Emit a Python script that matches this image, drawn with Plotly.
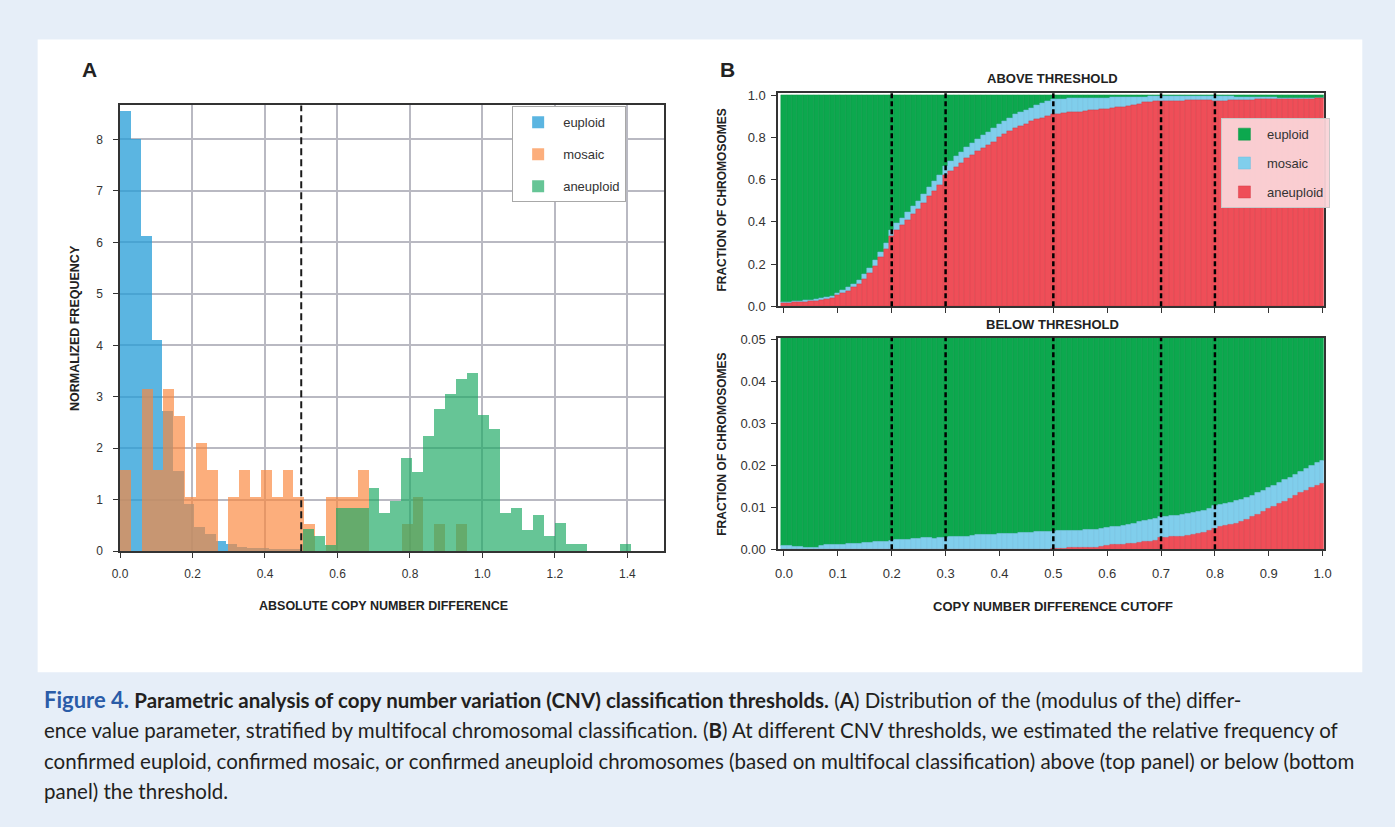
import numpy as np
import plotly.graph_objects as go

W, H = 1395, 827

# ---------------- Panel A: histogram data (normalized frequency per bin) ----------------
EUPLOID_BIN_START = 0.0
EUPLOID_BIN_WIDTH = 0.0293
euploid_freq = [8.54, 8.00, 6.12, 4.10, 2.72, 1.55, 0.92, 0.47, 0.33, 0.20,
                0.13, 0.08, 0.06, 0.06, 0.04, 0.03, 0.03]

MOSAIC_BIN_START = 0.0
MOSAIC_BIN_WIDTH = 0.0299
mosaic_freq = [1.57, 0.00, 3.15, 1.57, 3.15, 2.62, 1.05, 2.10, 1.57, 0.00,
               1.05, 1.57, 1.05, 1.57, 1.05, 1.57, 1.05, 0.52, 0.00, 1.05,
               1.05, 1.05, 1.57, 0.00, 0.00, 0.00, 0.52, 1.05, 0.00, 0.52,
               0.00, 0.52]

ANEUPLOID_BIN_START = 0.5045
ANEUPLOID_BIN_WIDTH = 0.0302
aneuploid_freq = [0.42, 0.28, 0.12, 0.83, 0.83, 0.83, 1.23, 0.73, 0.97, 1.80,
                  1.53, 2.23, 2.76, 3.05, 3.33, 3.46, 2.64, 2.36, 0.73, 0.83,
                  0.41, 0.70, 0.28, 0.55, 0.14, 0.14, 0.00, 0.00, 0.00, 0.14]

hist_xticks = [0.0, 0.2, 0.4, 0.6, 0.8, 1.0, 1.2, 1.4]
hist_yticks = [0, 1, 2, 3, 4, 5, 6, 7, 8]
hist_threshold = 0.5

# ---------------- Panel B: fractions at each cutoff ----------------
cutoffs = np.round(np.arange(101) * 0.01, 2)

above_aneuploid = [
    0.015, 0.016, 0.017, 0.019, 0.021, 0.023, 0.026, 0.030, 0.034, 0.039,
    0.051, 0.062, 0.073, 0.088, 0.105, 0.128, 0.158, 0.190, 0.230, 0.270,
    0.330, 0.360, 0.385, 0.410, 0.435, 0.460, 0.490, 0.520, 0.545, 0.575,
    0.620, 0.640, 0.660, 0.680, 0.700, 0.715, 0.735, 0.750, 0.765, 0.780,
    0.800, 0.815, 0.830, 0.845, 0.855, 0.865, 0.875, 0.885, 0.893, 0.900,
    0.910, 0.912, 0.915, 0.918, 0.920, 0.922, 0.925, 0.928, 0.930, 0.933,
    0.936, 0.939, 0.942, 0.946, 0.950, 0.955, 0.960, 0.965, 0.968, 0.970,
    0.972, 0.973, 0.973, 0.974, 0.974, 0.975, 0.975, 0.975, 0.975, 0.975,
    0.972, 0.972, 0.972, 0.978, 0.978, 0.979, 0.979, 0.979, 0.980, 0.980,
    0.980, 0.981, 0.981, 0.982, 0.982, 0.982, 0.983, 0.983, 0.983, 0.984, 0.984]
above_mosaic = [
    0.005, 0.005, 0.005, 0.005, 0.006, 0.006, 0.006, 0.007, 0.007, 0.008,
    0.012, 0.014, 0.016, 0.018, 0.020, 0.022, 0.024, 0.026, 0.028, 0.030,
    0.030, 0.032, 0.034, 0.036, 0.038, 0.040, 0.042, 0.044, 0.046, 0.048,
    0.045, 0.048, 0.050, 0.052, 0.054, 0.056, 0.058, 0.060, 0.060, 0.062,
    0.062, 0.062, 0.063, 0.064, 0.065, 0.066, 0.066, 0.067, 0.068, 0.070,
    0.072, 0.070, 0.068, 0.066, 0.064, 0.062, 0.060, 0.058, 0.056, 0.054,
    0.052, 0.050, 0.047, 0.044, 0.040, 0.036, 0.032, 0.028, 0.026, 0.025,
    0.024, 0.023, 0.023, 0.022, 0.022, 0.021, 0.021, 0.021, 0.020, 0.020,
    0.024, 0.024, 0.024, 0.016, 0.015, 0.014, 0.013, 0.012, 0.011, 0.010,
    0.009, 0.008, 0.007, 0.006, 0.005, 0.004, 0.003, 0.002, 0.002, 0.001, 0.001]
above_euploid = [
    0.980, 0.979, 0.978, 0.976, 0.973, 0.971, 0.968, 0.963, 0.959, 0.953,
    0.937, 0.924, 0.911, 0.894, 0.875, 0.850, 0.818, 0.784, 0.742, 0.700,
    0.640, 0.608, 0.581, 0.554, 0.527, 0.500, 0.468, 0.436, 0.409, 0.377,
    0.335, 0.312, 0.290, 0.268, 0.246, 0.229, 0.207, 0.190, 0.175, 0.158,
    0.138, 0.123, 0.107, 0.091, 0.080, 0.069, 0.059, 0.048, 0.039, 0.030,
    0.018, 0.018, 0.017, 0.016, 0.016, 0.016, 0.015, 0.014, 0.014, 0.013,
    0.012, 0.011, 0.011, 0.010, 0.010, 0.009, 0.008, 0.007, 0.006, 0.005,
    0.004, 0.004, 0.004, 0.004, 0.004, 0.004, 0.004, 0.004, 0.005, 0.005,
    0.004, 0.004, 0.004, 0.006, 0.007, 0.007, 0.008, 0.009, 0.009, 0.010,
    0.011, 0.011, 0.012, 0.012, 0.013, 0.014, 0.014, 0.015, 0.015, 0.015, 0.015]

below_aneuploid = [
    0.0, 0.0, 0.0, 0.0, 0.0, 0.0, 0.0, 0.0, 0.0, 0.0,
    0.0, 0.0, 0.0, 0.0, 0.0, 0.0, 0.0, 0.0, 0.0, 0.0,
    0.0, 0.0, 0.0, 0.0, 0.0, 0.0, 0.0, 0.0, 0.0, 0.0,
    0.0, 0.0, 0.0, 0.0, 0.0, 0.0, 0.0, 0.0, 0.0, 0.0,
    0.0, 0.0, 0.0, 0.0, 0.0, 0.0, 0.0, 0.0, 0.0, 0.0,
    0.0002, 0.0002, 0.0002, 0.0003, 0.0003, 0.0003, 0.0004, 0.0004, 0.0005, 0.0006,
    0.0009, 0.0010, 0.0011, 0.0012, 0.0013, 0.0014, 0.0016, 0.0018, 0.0019, 0.0021,
    0.0027, 0.0028, 0.0029, 0.0030, 0.0031, 0.0032, 0.0034, 0.0037, 0.0040, 0.0044,
    0.0050, 0.0053, 0.0056, 0.0059, 0.0062, 0.0066, 0.0071, 0.0077, 0.0083, 0.0090,
    0.0097, 0.0102, 0.0108, 0.0114, 0.0120, 0.0128, 0.0135, 0.0141, 0.0147, 0.0152, 0.0157]
below_mosaic = [
    0.0009, 0.0008, 0.0007, 0.0006, 0.0005, 0.0004, 0.0004, 0.0009, 0.0011, 0.0011,
    0.0012, 0.0012, 0.0013, 0.0013, 0.0014, 0.0016, 0.0017, 0.0018, 0.0018, 0.0019,
    0.0021, 0.0022, 0.0023, 0.0024, 0.0025, 0.0026, 0.0027, 0.0027, 0.0026, 0.0027,
    0.0027, 0.0029, 0.0030, 0.0030, 0.0031, 0.0033, 0.0034, 0.0035, 0.0036, 0.0036,
    0.0037, 0.0037, 0.0038, 0.0038, 0.0039, 0.0040, 0.0040, 0.0041, 0.0041, 0.0042,
    0.0041, 0.0042, 0.0042, 0.0041, 0.0042, 0.0042, 0.0042, 0.0043, 0.0043, 0.0044,
    0.0043, 0.0044, 0.0044, 0.0045, 0.0046, 0.0048, 0.0049, 0.0051, 0.0052, 0.0052,
    0.0051, 0.0051, 0.0051, 0.0051, 0.0052, 0.0053, 0.0053, 0.0052, 0.0053, 0.0053,
    0.0053, 0.0053, 0.0053, 0.0053, 0.0053, 0.0052, 0.0052, 0.0052, 0.0052, 0.0051,
    0.0051, 0.0051, 0.0052, 0.0052, 0.0052, 0.0050, 0.0050, 0.0051, 0.0052, 0.0054, 0.0055]
below_euploid = [
    0.999, 0.999, 0.999, 0.999, 0.999, 0.999, 0.999, 0.999, 0.999, 0.999,
    0.999, 0.999, 0.999, 0.999, 0.999, 0.998, 0.998, 0.998, 0.998, 0.998,
    0.998, 0.998, 0.998, 0.998, 0.998, 0.997, 0.997, 0.997, 0.997, 0.997,
    0.997, 0.997, 0.997, 0.997, 0.997, 0.997, 0.997, 0.997, 0.996, 0.996,
    0.996, 0.996, 0.996, 0.996, 0.996, 0.996, 0.996, 0.996, 0.996, 0.996,
    0.996, 0.996, 0.996, 0.996, 0.996, 0.996, 0.995, 0.995, 0.995, 0.995,
    0.995, 0.995, 0.995, 0.994, 0.994, 0.994, 0.994, 0.993, 0.993, 0.993,
    0.992, 0.992, 0.992, 0.992, 0.992, 0.992, 0.991, 0.991, 0.991, 0.990,
    0.990, 0.989, 0.989, 0.989, 0.989, 0.988, 0.988, 0.987, 0.987, 0.986,
    0.985, 0.985, 0.984, 0.983, 0.983, 0.982, 0.982, 0.981, 0.980, 0.979, 0.979]

threshold_lines = [0.2, 0.3, 0.5, 0.7, 0.8]
above_yticks = [0.0, 0.2, 0.4, 0.6, 0.8, 1.0]
below_yticks = [0.00, 0.01, 0.02, 0.03, 0.04, 0.05]
cutoff_ticks = [0.0, 0.1, 0.2, 0.3, 0.4, 0.5, 0.6, 0.7, 0.8, 0.9, 1.0]

# ---------------- helpers ----------------
def fx(p):
    return p / W


def fy(p):
    return 1 - p / H


FONT = "Liberation Sans, Arial, sans-serif"
NARROW = "Liberation Sans Narrow, Arial Narrow, Liberation Sans, Arial, sans-serif"
CAPTION_FONT = "Lato, Liberation Sans, sans-serif"

fig = go.Figure()

# ---------------- Panel A traces ----------------
def centers(start, width, n):
    return [start + (i + 0.5) * width for i in range(n)]

hist_specs = [
    ("euploid", euploid_freq, EUPLOID_BIN_START, EUPLOID_BIN_WIDTH, "rgba(40,158,215,0.76)"),
    ("mosaic", mosaic_freq, MOSAIC_BIN_START, MOSAIC_BIN_WIDTH, "rgba(250,136,62,0.68)"),
    ("aneuploid", aneuploid_freq, ANEUPLOID_BIN_START, ANEUPLOID_BIN_WIDTH, "rgba(30,170,100,0.68)"),
]
for name, freq, start, width, col in hist_specs:
    fig.add_trace(go.Bar(
        x=centers(start, width, len(freq)), y=freq, width=width, name=name,
        marker=dict(color=col, line=dict(width=0)),
        xaxis="x", yaxis="y", legend="legend", legendgroup="A_" + name,
        hoverinfo="x+y",
    ))

# ---------------- Panel B traces ----------------
B_COLORS = {
    "euploid": ("rgb(12,168,78)", "rgb(8,150,68)"),
    "mosaic": ("rgb(128,206,236)", "rgb(110,190,222)"),
    "aneuploid": ("rgb(239,78,88)", "rgb(214,62,72)"),
}

def add_stack(ax, ay, aneu, mosa, eupl, show):
    aneu = np.array(aneu)
    mosa = np.array(mosa)
    eupl = np.array(eupl)
    layers = {
        "aneuploid": (aneu, np.zeros_like(aneu)),
        "mosaic": (mosa, aneu),
        "euploid": (eupl, aneu + mosa),
    }
    for name in ["euploid", "mosaic", "aneuploid"]:
        vals, base = layers[name]
        fill, edge = B_COLORS[name]
        fig.add_trace(go.Bar(
            x=cutoffs, y=vals, base=base, width=0.01, name=name,
            marker=dict(color=fill, line=dict(width=0.5, color=edge)),
            xaxis=ax, yaxis=ay, legend="legend2", legendgroup="B_" + name,
            showlegend=show, hoverinfo="x+y",
        ))

add_stack("x2", "y2", above_aneuploid, above_mosaic, above_euploid, True)
add_stack("x3", "y3", below_aneuploid, below_mosaic, below_euploid, False)

# ---------------- shapes ----------------
shapes = [
    dict(type="rect", xref="paper", yref="paper", x0=fx(30), x1=fx(1370),
         y0=fy(678), y1=fy(35), fillcolor="white", line=dict(width=0), layer="below"),
    dict(type="line", xref="x", yref="y domain", x0=hist_threshold, x1=hist_threshold,
         y0=0, y1=1, line=dict(color="#1a1a1a", width=2, dash="7px,4px")),
]
for t in threshold_lines:
    for xr, yr in [("x2", "y2 domain"), ("x3", "y3 domain")]:
        shapes.append(dict(type="line", xref=xr, yref=yr, x0=t, x1=t, y0=0, y1=1,
                           line=dict(color="black", width=2.5, dash="5px,3px")))

# ---------------- annotations ----------------
ann = []

def text(x, y, s, size=12, bold=True, angle=0, family=FONT, color="#222", xanchor="center"):
    ann.append(dict(x=x, y=y, xref="paper", yref="paper", text=("<b>%s</b>" % s) if bold else s,
                    showarrow=False, textangle=angle, xanchor=xanchor, yanchor="middle",
                    font=dict(size=size, family=family, color=color)))

text(fx(82), fy(66), "A", size=21)
text(fx(728), fy(66), "B", size=21)
text(fx(68), fy(328), "NORMALIZED FREQUENCY", size=12.5, angle=-90)
text(fx(380), fy(611), "ABSOLUTE COPY NUMBER DIFFERENCE", size=12.5)
text(fx(1057), fy(75), "ABOVE THRESHOLD", size=13, family=NARROW)
text(fx(1057), fy(325), "BELOW THRESHOLD", size=13, family=NARROW)
text(fx(722), fy(198), "FRACTION OF CHROMOSOMES", size=12, angle=-90)
text(fx(722), fy(446), "FRACTION OF CHROMOSOMES", size=12, angle=-90)
text(fx(1057), fy(611), "COPY NUMBER DIFFERENCE CUTOFF", size=13, family=NARROW)

caption_lines = [
    "<span style='color:#2a5ca8;font-size:22px'><b>Figure 4.</b></span> <b>Parametric analysis of copy number variation (CNV) classification thresholds.</b> (<b>A</b>) Distribution of the (modulus of the) differ-",
    "ence value parameter, stratified by multifocal chromosomal classification. (<b>B</b>) At different CNV thresholds, we estimated the relative frequency of",
    "confirmed euploid, confirmed mosaic, or confirmed aneuploid chromosomes (based on multifocal classification) above (top panel) or below (bottom",
    "panel) the threshold.",
]
for i, line in enumerate(caption_lines):
    text(fx(34), fy(706 + 31 * i), line, size=20.5, bold=False, family=CAPTION_FONT,
         color="#231f20", xanchor="left")

# ---------------- axes ----------------
AX_LINE = dict(showline=True, linecolor="#333333", linewidth=1.5, mirror=True,
               ticks="outside", ticklen=5, tickwidth=1.2, tickcolor="#333333", zeroline=False)

fig.update_layout(
    width=W, height=H, autosize=False, margin=dict(l=0, r=0, t=0, b=0),
    paper_bgcolor="#e6eef8", plot_bgcolor="white",
    barmode="overlay", bargap=0,
    font=dict(family=FONT, color="#333333", size=12),
    shapes=shapes, annotations=ann,
    xaxis=dict(domain=[fx(113.3), fx(663.3)], range=[0, 1.5], anchor="y",
               tickvals=hist_xticks, ticktext=["%.1f" % v for v in hist_xticks],
               showgrid=True, gridcolor="#b9b9c2", gridwidth=1.5, ticklabelstandoff=6,
               tickfont=dict(size=12, family=FONT, color="#333"), **AX_LINE),
    yaxis=dict(domain=[fy(555), fy(102)], range=[0, 8.66], anchor="x",
               tickvals=hist_yticks, ticktext=[str(v) for v in hist_yticks],
               showgrid=True, gridcolor="#b9b9c2", gridwidth=1.5, ticklabelstandoff=8,
               tickfont=dict(size=12, family=FONT, color="#333"), **AX_LINE),
    xaxis2=dict(domain=[fx(779), fx(1331)], range=[-0.011, 1.002], anchor="y2",
                tickvals=cutoff_ticks, showticklabels=False, showgrid=False, **AX_LINE),
    yaxis2=dict(domain=[fy(306), fy(89.6)], range=[0, 1.01], anchor="x2",
                tickvals=above_yticks, ticktext=["%.1f" % v for v in above_yticks],
                showgrid=False, ticklabelstandoff=3,
                tickfont=dict(size=13, family=NARROW, color="#333"), **AX_LINE),
    xaxis3=dict(domain=[fx(779), fx(1331)], range=[-0.011, 1.002], anchor="y3",
                tickvals=cutoff_ticks, ticktext=["%.1f" % v for v in cutoff_ticks],
                showgrid=False, ticklabelstandoff=6,
                tickfont=dict(size=13, family=NARROW, color="#333"), **AX_LINE),
    yaxis3=dict(domain=[fy(553), fy(338)], range=[0, 0.0505], anchor="x3",
                tickvals=below_yticks, ticktext=["%.2f" % v for v in below_yticks],
                showgrid=False, ticklabelstandoff=3,
                tickfont=dict(size=13, family=NARROW, color="#333"), **AX_LINE),
    legend=dict(x=fx(510), y=fy(103), xanchor="left", yanchor="top",
                bgcolor="white", bordercolor="#a8a8a8", borderwidth=1,
                font=dict(size=13, family=FONT, color="#333"), tracegroupgap=12,
                itemwidth=40, traceorder="grouped", entrywidth=90, entrywidthmode="pixels"),
    legend2=dict(x=fx(1227), y=fy(115), xanchor="left", yanchor="top",
                 bgcolor="rgba(250,212,216,0.95)", bordercolor="#c8c8c8", borderwidth=1,
                 font=dict(size=13, family=NARROW, color="#333"), tracegroupgap=9,
                 itemwidth=35, traceorder="grouped"),
    showlegend=True,
)

fig.write_html(
    "out.html",
    config={"responsive": False},
    post_script="document.documentElement.style.margin='0';document.body.style.margin='0';document.body.style.padding='0';",
)
